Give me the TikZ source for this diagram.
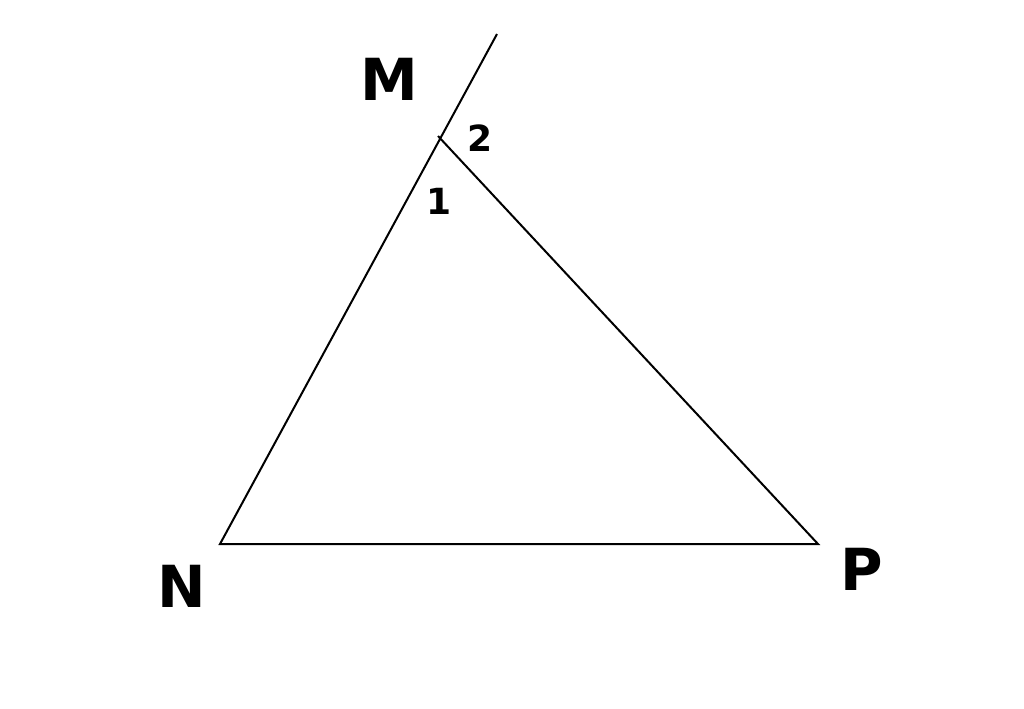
\documentclass[tikz,border=0pt]{standalone}
\usepackage{fontspec}
\setmainfont{DejaVu Sans}
\begin{document}
\begin{tikzpicture}[x=0.5pt,y=-0.5pt,
  edge/.style={line width=1pt,line join=miter},
  biglabel/.style={font=\bfseries\fontsize{29}{35}\selectfont,inner sep=0pt},
  anglelabel/.style={font=\bfseries\fontsize{18}{22}\selectfont,inner sep=0pt}]
\useasboundingbox (0,0) rectangle (1024,708);
\coordinate (T) at (497,34);
\coordinate (M) at (438,136);
\coordinate (N) at (220,544);
\coordinate (P) at (818,544);
\draw[edge] (T) -- (N) -- (P) -- (M);
\node[biglabel] (lM) at (389,79) {M};
\node[biglabel] (lN) at (182,586) {N};
\node[biglabel] (lP) at (862,569) {P};
\node[anglelabel] (l2) at (480,138) {2};
\node[anglelabel] (l1) at (439,201) {1};
\end{tikzpicture}
\end{document}
